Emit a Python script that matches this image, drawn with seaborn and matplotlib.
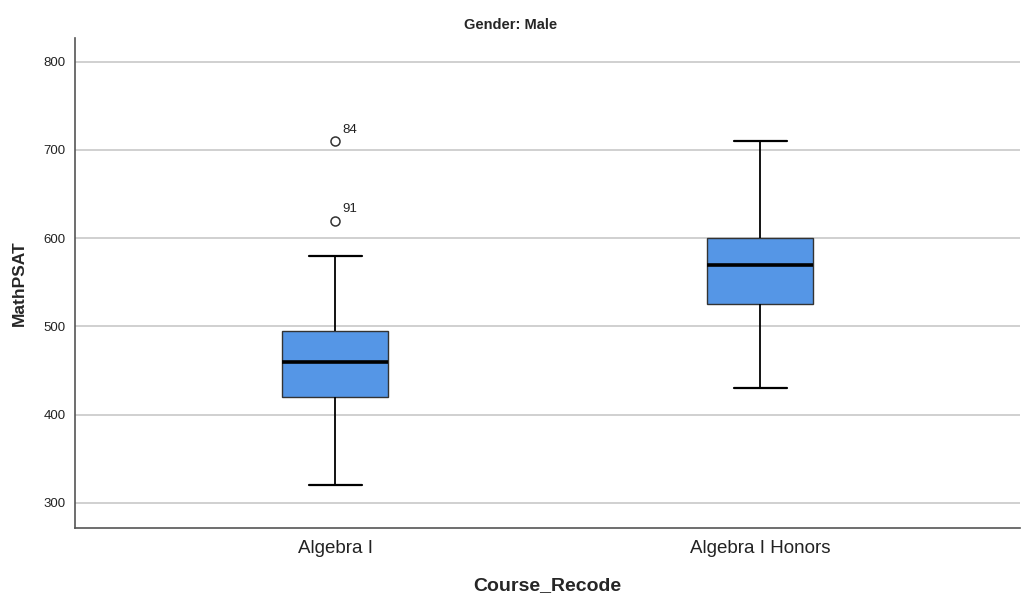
import pandas as pd
import numpy as np
import seaborn as sns
import matplotlib.pyplot as plt

# ======================================================
# Data (values chosen so the box stats match the chart)
# ======================================================

courses = ["Algebra I", "Algebra I Honors"]

algebra_scores = [320, 390, 410, 420, 440, 450, 460, 470, 485, 495, 580, 620, 710]
honors_scores = [430, 500, 525, 550, 570, 580, 600, 650, 710]

outlier_values = [710, 620]
outlier_labels = ["84", "91"]

y_ticks = [300, 400, 500, 600, 700, 800]

df = pd.DataFrame({
    "Course_Recode": [courses[0]] * len(algebra_scores) + [courses[1]] * len(honors_scores),
    "MathPSAT": algebra_scores + honors_scores,
})

# ======================================================
# Plot
# ======================================================

sns.set_theme(style="white")
plt.rcParams["font.family"] = ["Liberation Sans", "DejaVu Sans"]

fig = plt.figure(figsize=(10.21, 6.02), dpi=100)
ax = fig.add_axes([0.0735, 0.123, 0.926, 0.814])

sns.boxplot(
    data=df,
    x="Course_Recode",
    y="MathPSAT",
    order=courses,
    width=0.25,
    color="#5596e6",
    saturation=1,
    whis=1.5,
    linecolor="black",
    linewidth=1.3,
    boxprops=dict(facecolor="#5596e6", edgecolor="#333333", linewidth=1.0),
    medianprops=dict(color="black", linewidth=2.6),
    whiskerprops=dict(color="black", linewidth=1.3),
    capprops=dict(color="black", linewidth=1.6),
    flierprops=dict(marker="o", markersize=6.5, markerfacecolor="white",
                    markeredgecolor="#333333", markeredgewidth=1.1),
    capwidths=0.125,
    ax=ax,
    zorder=3,
)

# Outlier case labels
for val, lab in zip(outlier_values, outlier_labels):
    ax.annotate(lab, xy=(0, val), xytext=(5, 6), textcoords="offset points",
                fontsize=9.5, color="#222222")

ax.set_xlim(-0.612, 1.612)
ax.set_ylim(271.6, 827)
ax.set_yticks(y_ticks)
ax.yaxis.grid(True, color="#c8c8c8", linewidth=1.2)
ax.set_axisbelow(True)

for side in ["top", "right"]:
    ax.spines[side].set_visible(False)
for side in ["left", "bottom"]:
    ax.spines[side].set_color("#555555")
    ax.spines[side].set_linewidth(1.2)

ax.tick_params(axis="y", labelsize=9.5, length=0, pad=7, colors="#222222")
ax.tick_params(axis="x", labelsize=13.5, length=0, pad=9, colors="#222222")

ax.set_xlabel("Course_Recode", fontsize=14, fontweight="bold", labelpad=14)
ax.set_ylabel("MathPSAT", fontsize=12.5, fontweight="bold", labelpad=12)

fig.text(0.5, 0.952, "Gender: Male", ha="center", fontsize=10.5, fontweight="bold")

plt.savefig("out.png", dpi=100)
